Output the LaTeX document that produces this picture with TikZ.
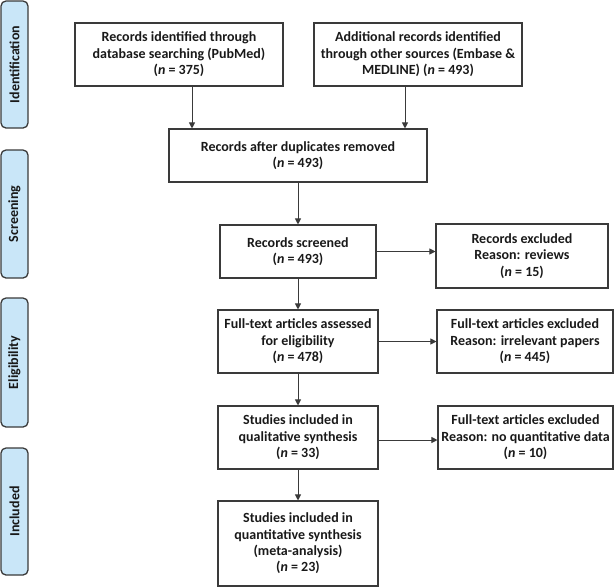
\documentclass[tikz,border=0pt]{standalone}
\usepackage{fontspec}
\setmainfont{Carlito}
\usetikzlibrary{arrows.meta}
\definecolor{phase}{HTML}{C9E6F8}
\definecolor{edge}{HTML}{3A3A3A}
\begin{document}
\begin{tikzpicture}[x=1pt,y=-1pt,
  box/.style n args={2}{draw=edge, line width=1.1pt, align=center,
    font=\fontsize{14}{16.4}\selectfont\bfseries, inner sep=0pt,
    minimum width=#1, minimum height=#2, text=black!90},
  phasebox/.style={draw=edge, fill=phase, line width=1.3pt, rounded corners=5pt,
    rotate=90, minimum width=#1, minimum height=27pt, inner sep=0pt,
    font=\fontsize{14}{16}\selectfont\bfseries, text=black!90},
  arr/.style={draw=edge, line width=1pt, -{Triangle[length=6pt,width=6pt]}}
]
\useasboundingbox (0,0) rectangle (615,587);

% phase labels
\node[phasebox=127pt] (pid) at (14.5,64.5) {Identification};
\node[phasebox=128pt] (psc) at (14.5,214) {Screening};
\node[phasebox=129pt] (pel) at (14.5,362.5) {Eligibility};
\node[phasebox=127pt] (pin) at (14.5,511.5) {Included};

% boxes
\node[box={208pt}{63pt}] (A) at (179,54.5) {Records identified through\\database searching (PubMed)\\(\textit{n} = 375)};
\node[box={208pt}{63pt}] (B) at (418,54.5) {Additional records identified\\through other sources (Embase \&\\MEDLINE) (\textit{n} = 493)};
\node[box={258pt}{53pt}] (C) at (298,155.5) {Records after duplicates removed\\(\textit{n} = 493)};
\node[box={156pt}{53pt}] (D) at (298,251.5) {Records screened\\(\textit{n} = 493)};
\node[box={172pt}{64pt}] (E) at (522,256) {Records excluded\\Reason: reviews\\(\textit{n} = 15)};
\node[box={160pt}{63pt}] (F) at (298,341.5) {Full-text articles assessed\\for eligibility\\(\textit{n} = 478)};
\node[box={176pt}{63pt}] (G) at (525,341.5) {Full-text articles excluded\\Reason: irrelevant papers\\(\textit{n} = 445)};
\node[box={160pt}{63pt}] (H) at (298,437.5) {Studies included in\\qualitative synthesis\\(\textit{n} = 33)};
\node[box={175pt}{63pt}] (I) at (525.5,437.5) {Full-text articles excluded\\Reason: no quantitative data\\(\textit{n} = 10)};
\node[box={160pt}{85pt}] (J) at (298,543.5) {Studies included in\\quantitative synthesis\\(meta-analysis)\\(\textit{n} = 23)};

% connectors
\draw[arr] ([xshift=13pt]A.south) -- ([xshift=13pt]A.south |- C.north);
\draw[arr] ([xshift=-13pt]B.south) -- ([xshift=-13pt]B.south |- C.north);
\draw[arr] (C) -- (D);
\draw[arr] (D) -- (F);
\draw[arr] (F) -- (H);
\draw[arr] (H) -- (J);
\draw[arr] (D.east) -- (D.east -| E.west);
\draw[arr] (F.east) -- (F.east -| G.west);
\draw[arr] ([yshift=-2.5pt]H.east) -- ([yshift=-2.5pt]H.east -| I.west);
\end{tikzpicture}
\end{document}
